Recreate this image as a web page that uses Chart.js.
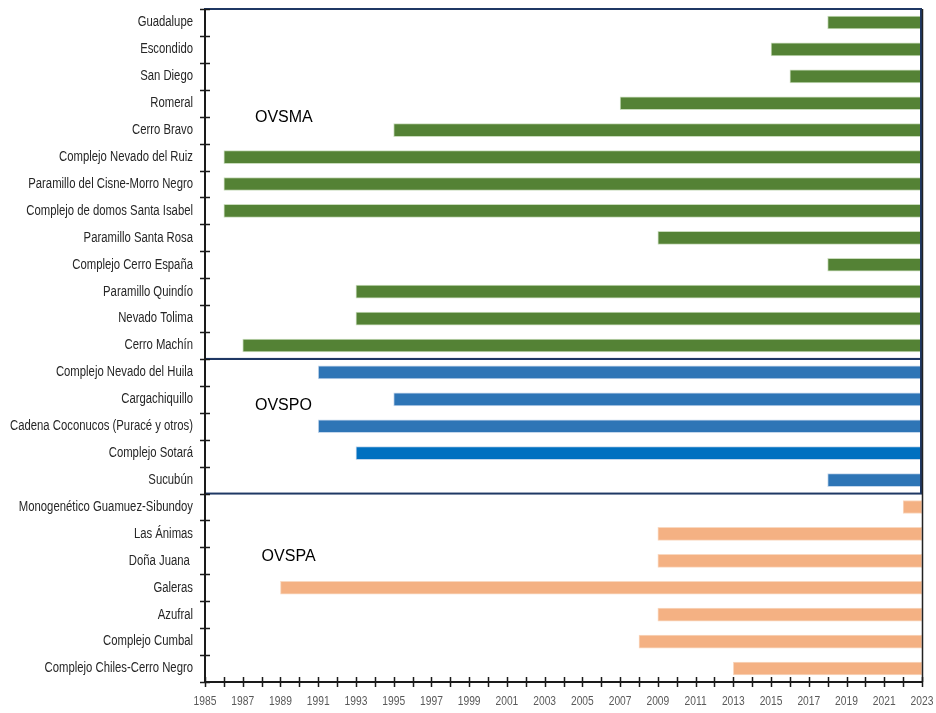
<!DOCTYPE html>
<html>
<head>
<meta charset="utf-8">
<script src="https://cdn.jsdelivr.net/npm/chart.js@4.4.1/dist/chart.umd.min.js"></script>
<style>
  body { margin: 0; background: #fff; }
  canvas { display: block; }
</style>
</head>
<body>
<canvas id="gantt" width="936" height="713"></canvas>
<script>
// volcanoes per observatory, with the year monitoring started
var ovsmaNames = ['Guadalupe', 'Escondido', 'San Diego', 'Romeral', 'Cerro Bravo',
  'Complejo Nevado del Ruiz', 'Paramillo del Cisne-Morro Negro', 'Complejo de domos Santa Isabel',
  'Paramillo Santa Rosa', 'Complejo Cerro España', 'Paramillo Quindío', 'Nevado Tolima', 'Cerro Machín'];
var ovsmaStart = [2018, 2015, 2016, 2007, 1995, 1986, 1986, 1986, 2009, 2018, 1993, 1993, 1987];

var ovspoNames = ['Complejo Nevado del Huila', 'Cargachiquillo', 'Cadena Coconucos (Puracé y otros)',
  'Complejo Sotará', 'Sucubún'];
var ovspoStart = [1991, 1995, 1991, 1993, 2018];

var ovspaNames = ['Monogenético Guamuez-Sibundoy', 'Las Ánimas', 'Doña Juana ', 'Galeras',
  'Azufral', 'Complejo Cumbal', 'Complejo Chiles-Cerro Negro'];
var ovspaStart = [2022, 2009, 2009, 1989, 2009, 2008, 2013];

var endYear = 2023;
var xMin = 1985;
var xLabelYears = [];
for (var yy = xMin; yy <= endYear; yy += 2) xLabelYears.push(yy);

var allNames = ovsmaNames.concat(ovspoNames, ovspaNames);

function rows(names, starts) {
  var out = [];
  for (var i = 0; i < names.length; i++) {
    out.push({ y: names[i], x: [starts[i], endYear] });
  }
  return out;
}

var blueCols = ovspoNames.map(function (n) { return n === 'Complejo Sotará' ? '#0070c0' : '#2e75b6'; });

// narrow text: the original uses a condensed face, so squeeze Liberation Sans
function narrowText(ctx, txt, x, y, sx) {
  ctx.save();
  ctx.translate(x, y);
  ctx.scale(sx, 1);
  ctx.fillText(txt, 0, 0);
  ctx.restore();
}

// draws crossing ticks, axis lines, group boxes and labels
var decor = {
  id: 'decor',
  afterDatasetsDraw: function (chart) {
    var ctx = chart.ctx, a = chart.chartArea;
    var xs = chart.scales.x, ys = chart.scales.y;
    var n = allNames.length;
    var h = (a.bottom - a.top) / n;
    ctx.save();

    // group boxes
    ctx.strokeStyle = '#1f3864';
    ctx.lineWidth = 2;
    var yMid1 = a.top + ovsmaNames.length * h;
    var yMid2 = a.top + (ovsmaNames.length + ovspoNames.length) * h;
    ctx.strokeRect(a.left, a.top, a.right - a.left - 1, yMid1 - a.top);
    ctx.strokeRect(a.left, yMid1, a.right - a.left - 1, yMid2 - yMid1);

    // right edge line
    ctx.strokeStyle = '#222';
    ctx.lineWidth = 1.5;
    ctx.beginPath();
    ctx.moveTo(a.right + 0.5, a.top);
    ctx.lineTo(a.right + 0.5, a.bottom);
    ctx.stroke();

    // axis lines
    ctx.strokeStyle = '#1a1a1a';
    ctx.lineWidth = 2;
    ctx.beginPath();
    ctx.moveTo(a.left, a.top);
    ctx.lineTo(a.left, a.bottom);
    ctx.lineTo(a.right + 1, a.bottom);
    ctx.stroke();

    // ticks crossing the axes
    ctx.lineWidth = 1.5;
    ctx.beginPath();
    for (var yr = xMin; yr <= endYear; yr++) {
      var px = Math.round(xs.getPixelForValue(yr)) + 0.5;
      ctx.moveTo(px, a.bottom - 5);
      ctx.lineTo(px, a.bottom + 5);
    }
    for (var i = 0; i <= n; i++) {
      var py = Math.round(a.top + i * h) + 0.5;
      ctx.moveTo(a.left - 5, py);
      ctx.lineTo(a.left + 5, py);
    }
    ctx.stroke();

    // category labels
    ctx.font = '14px "Liberation Sans", Arial, sans-serif';
    ctx.fillStyle = '#262626';
    ctx.textAlign = 'right';
    ctx.textBaseline = 'middle';
    var sx = 183 / ctx.measureText('Cadena Coconucos (Puracé y otros)').width;
    for (var j = 0; j < n; j++) {
      narrowText(ctx, allNames[j], a.left - 12, ys.getPixelForValue(j), sx);
    }

    // year labels
    ctx.font = '13.5px "Liberation Sans", Arial, sans-serif';
    ctx.fillStyle = '#595959';
    ctx.textAlign = 'center';
    for (var k = 0; k < xLabelYears.length; k++) {
      narrowText(ctx, String(xLabelYears[k]), xs.getPixelForValue(xLabelYears[k]), a.bottom + 19, 0.76);
    }

    // group labels
    ctx.fillStyle = '#000';
    ctx.font = '16px "Liberation Sans", Arial, sans-serif';
    ctx.textAlign = 'left';
    ctx.fillText('OVSMA', xs.getPixelForValue(1987.65), a.top + 4.05 * h);
    ctx.fillText('OVSPO', xs.getPixelForValue(1987.65), a.top + 14.75 * h);
    ctx.fillText('OVSPA', xs.getPixelForValue(1988.0), a.top + 20.35 * h);
    ctx.restore();
  }
};

var chart = new Chart(document.getElementById('gantt').getContext('2d'), {
  type: 'bar',
  data: {
    labels: allNames,
    datasets: [
      { label: 'OVSMA', data: rows(ovsmaNames, ovsmaStart), backgroundColor: '#548235', borderColor: '#c9dcbc', borderWidth: 1, borderSkipped: false },
      { label: 'OVSPO', data: rows(ovspoNames, ovspoStart), backgroundColor: blueCols, borderColor: '#c4d7ec', borderWidth: 1, borderSkipped: false },
      { label: 'OVSPA', data: rows(ovspaNames, ovspaStart), backgroundColor: '#f4b183', borderColor: '#f9d8c0', borderWidth: 1, borderSkipped: false }
    ]
  },
  options: {
    responsive: false,
    animation: false,
    indexAxis: 'y',
    layout: { padding: { top: 9, right: 14, bottom: 0, left: 0 } },
    datasets: { bar: { grouped: false, barThickness: 13 } },
    plugins: { legend: { display: false }, tooltip: { enabled: false } },
    scales: {
      x: {
        type: 'linear',
        min: xMin,
        max: endYear,
        grid: { display: false, drawTicks: false },
        border: { display: false },
        ticks: { display: false },
        afterFit: function (s) { s.height = 31; }
      },
      y: {
        type: 'category',
        grid: { display: false, drawTicks: false, offset: true },
        border: { display: false },
        ticks: { display: false },
        afterFit: function (s) { s.width = 205; }
      }
    }
  },
  plugins: [decor]
});
</script>
</body>
</html>
